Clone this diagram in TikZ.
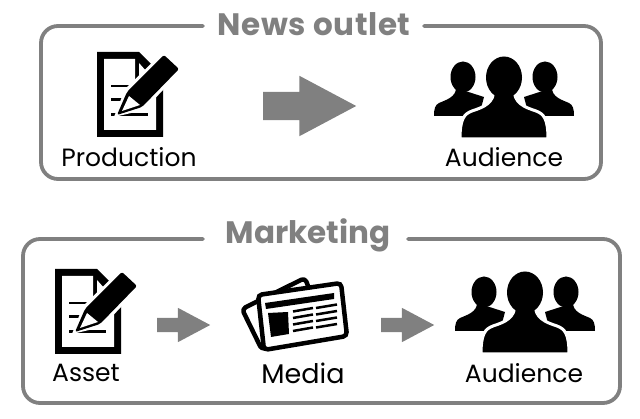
\documentclass[tikz,border=0pt]{standalone}
\usepackage{fontspec}
\setmainfont{Poppins}
\usetikzlibrary{positioning,shapes.arrows}
\definecolor{framegray}{HTML}{808080}
\tikzset{
  docicon/.pic={
    \fill[black] (0,0) -- (42,0) -- (66,24) -- (66,85) -- (0,85) -- cycle;
    \fill[white] (7,7) -- (38,7) -- (38,30) -- (59,30) -- (59,78) -- (7,78) -- cycle;
    \fill[white] (42,11) -- (50,20) -- (42,27) -- cycle;
    \draw[black, line width=2.4pt] (14,34) -- (36,34);
    \draw[black, line width=2.4pt] (14,47.5) -- (32,47.5);
    \draw[black, line width=2.4pt] (14,62.5) -- (51,62.5);
    \fill[white] (17,65) -- (28,37) -- (66,0) -- (86,17) -- (47,58) -- cycle;
    \fill[black, rounded corners=2pt] (20,63) -- (30,40) -- (67,3) -- (82,17) -- (45,55) -- cycle;
    \fill[white] (25,59) -- (32,44) -- (43,53) -- cycle;
  },
  peopleicon/.pic={
    \foreach \s in {-1,1} {
      \fill[black] (\s*41,20) ellipse (12.5 and 15.5);
      \fill[black] (\s*48,31) .. controls (\s*48,40) and (\s*58,43) .. (\s*65,46)
        .. controls (\s*69,48) and (\s*70,52) .. (\s*70,59) -- (\s*25,59) -- (\s*20,40) -- cycle;
    }
    \fill[black, draw=white, line width=3pt] (-10,32) .. controls (-10,46) and (-20,50) .. (-32,54)
      .. controls (-40,57) and (-44,62) .. (-44,82) -- (44,82)
      .. controls (44,62) and (40,57) .. (32,54) .. controls (20,50) and (10,46) .. (10,32) -- cycle;
    \fill[black] (0,20.5) ellipse (18 and 21);
    \fill[black] (-8,35) -- (8,35) -- (8,45) -- (-8,45) -- cycle;
  },
  mediaicon/.pic={
    \draw[black, fill=white, line width=4.5pt, rounded corners=4pt, line join=round]
      (-63,-7) -- (0,-38) -- (12,-6) -- (-43,34) -- cycle;
    \draw[black, fill=white, line width=4.5pt, rounded corners=4pt]
      (-47,-21) -- (36,-33) -- (42,20) -- (-41,34) -- cycle;
    \fill[black] (-40,-13) -- (29,-23) -- (29,-17) -- (-39,-7) -- cycle;
    \fill[black] (-37,-3) -- (-17,-4) -- (-16,18) -- (-34,21) -- cycle;
    \foreach \r in {0,6.5,13,19.5} {
      \draw[black, line width=2.5pt] (-12,-4.5+\r) -- (8,-8+\r);
      \draw[black, line width=2.5pt] (11,-8+\r) -- (32,-11.5+\r);
    }
  }
}
\begin{document}
\begin{tikzpicture}[x=1pt, y=-1pt,
  frameline/.style={draw=framegray, line width=3.8pt, rounded corners=17pt, line cap=round},
  titlelabel/.style={text=framegray, font=\bfseries\fontsize{31}{33}\selectfont, inner sep=0pt, anchor=center},
  iconlabel/.style={text=black, font=\fontsize{25}{27}\selectfont, inner sep=0pt, anchor=center},
  bigarrow/.style={shape=single arrow, fill=framegray, inner xsep=0pt, anchor=tail, single arrow tip angle=56, single arrow head indent=0pt}]
  \useasboundingbox (0,0) rectangle (640,419);

  % top box
  \draw[frameline] (203,26) -- (41,26) -- (41,179) -- (601,179) -- (601,26) -- (424,26);
  \node[titlelabel] (newsTitle) at (314,24) {\addfontfeature{LetterSpace=2}News outlet};
  \pic at (97,52) {docicon};
  \node[iconlabel] (production) at (129,157) {Production};
  \node[bigarrow, inner ysep=14pt, minimum height=93pt, single arrow head extend=16pt] (newsArrow) at (263,106) {};
  \pic at (504,57) {peopleicon};
  \node[iconlabel] (audienceA) at (504,157) {Audience};

  % bottom box
  \draw[frameline] (203,239) -- (23,239) -- (23,403) -- (620,403) -- (620,239) -- (408,239);
  \node[titlelabel] (marketingTitle) at (308,235) {Marketing};
  \pic at (55,269) {docicon};
  \node[iconlabel] (asset) at (86,373) {Asset};
  \node[bigarrow, inner ysep=7pt, minimum height=53pt, single arrow head extend=10pt] (assetArrow) at (157,325) {};
  \pic at (305,316) {mediaicon};
  \node[iconlabel, font=\fontsize{27}{29}\selectfont] (media) at (303,373) {Media};
  \node[bigarrow, inner ysep=7pt, minimum height=53pt, single arrow head extend=10pt] (mediaArrow) at (381,325) {};
  \pic at (525,272) {peopleicon};
  \node[iconlabel] (audienceB) at (524,373) {Audience};
\end{tikzpicture}
\end{document}
